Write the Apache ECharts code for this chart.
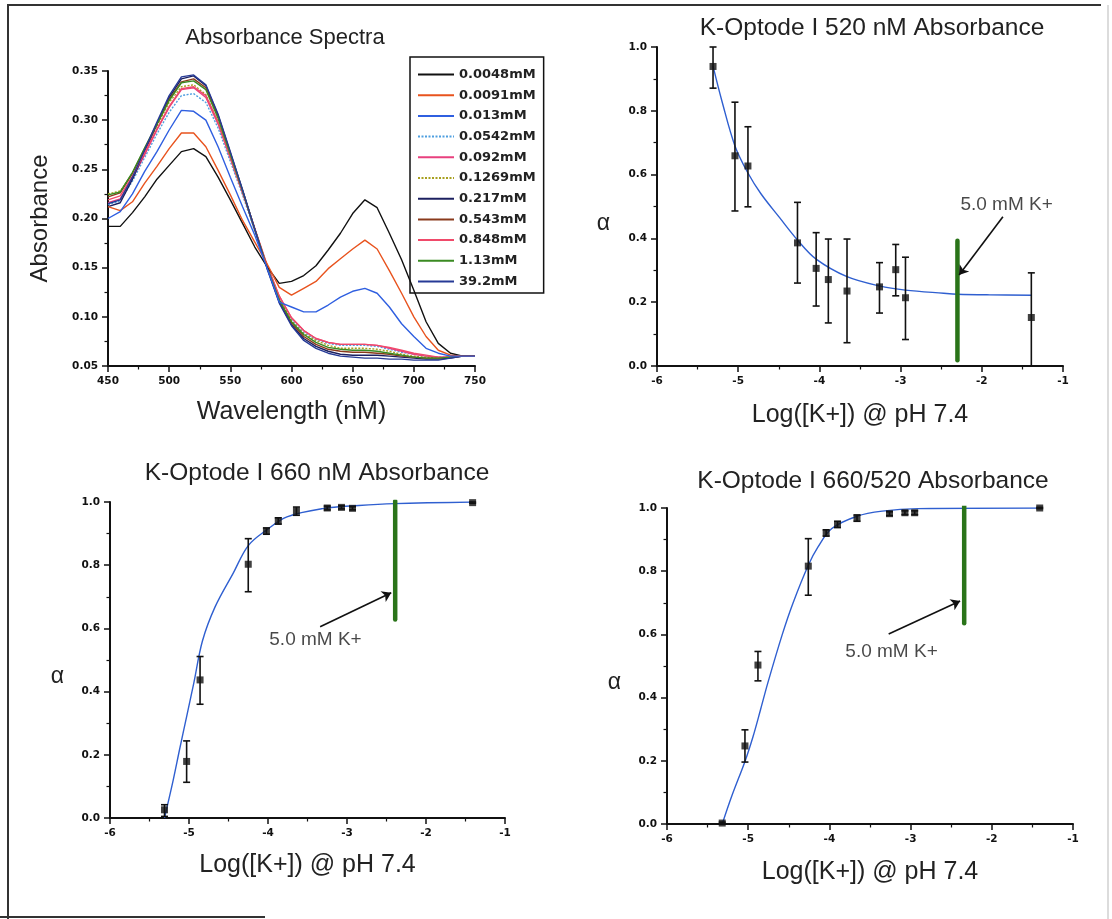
<!DOCTYPE html>
<html>
<head>
<meta charset="utf-8">
<script src="https://cdn.jsdelivr.net/npm/echarts@6/dist/echarts.min.js"></script>
<style>
html,body{margin:0;padding:0;background:#fff;}
#chart{width:1112px;height:919px;}
</style>
</head>
<body>
<div id="chart"></div>
<script>
// ---------- Absorbance spectra ----------
const wavelengths = [450,460,470,480,490,500,510,520,530,540,550,560,570,580,590,600,610,620,630,640,650,660,670,680,690,700,710,720,730,740,750];
const seriesNames = ['0.0048mM','0.0091mM','0.013mM','0.0542mM','0.092mM','0.1269mM','0.217mM','0.543mM','0.848mM','1.13mM','39.2mM'];
const s0048 = [0.192,0.192,0.206,0.222,0.240,0.254,0.268,0.271,0.263,0.242, 0.219,0.195,0.171,0.151,0.134,0.136,0.142,0.152,0.168,0.185, 0.205,0.219,0.211,0.185,0.158,0.127,0.095,0.073,0.063,0.060, 0.060];
const s0091 = [0.212,0.208,0.217,0.236,0.253,0.271,0.287,0.287,0.273,0.249, 0.224,0.198,0.176,0.154,0.130,0.122,0.129,0.136,0.149,0.159, 0.169,0.178,0.169,0.147,0.124,0.100,0.080,0.066,0.061,0.060, 0.060];
const s013  = [0.200,0.207,0.225,0.248,0.268,0.290,0.310,0.309,0.300,0.273, 0.242,0.212,0.183,0.150,0.115,0.110,0.105,0.105,0.112,0.120, 0.126,0.129,0.124,0.110,0.093,0.080,0.068,0.063,0.060,0.060, 0.060];
const s0542 = [0.214,0.218,0.238,0.262,0.286,0.308,0.325,0.327,0.318,0.292, 0.258,0.224,0.187,0.151,0.119,0.097,0.084,0.077,0.073,0.071, 0.071,0.071,0.070,0.067,0.064,0.062,0.060,0.059,0.059,0.060, 0.060];
const s092  = [0.216,0.220,0.241,0.265,0.290,0.313,0.331,0.333,0.323,0.296, 0.261,0.226,0.189,0.152,0.121,0.099,0.086,0.078,0.074,0.072, 0.072,0.072,0.071,0.068,0.065,0.062,0.060,0.059,0.059,0.060, 0.060];
const s1269 = [0.225,0.228,0.246,0.270,0.294,0.318,0.334,0.336,0.326,0.298, 0.263,0.227,0.189,0.151,0.118,0.096,0.083,0.076,0.071,0.068, 0.068,0.068,0.067,0.065,0.062,0.060,0.059,0.058,0.059,0.060, 0.060];
const s217  = [0.212,0.216,0.240,0.268,0.296,0.323,0.342,0.345,0.335,0.305, 0.267,0.229,0.189,0.150,0.115,0.092,0.078,0.070,0.065,0.062, 0.061,0.061,0.061,0.060,0.059,0.058,0.057,0.057,0.058,0.060, 0.060];
const s543  = [0.222,0.226,0.246,0.271,0.296,0.321,0.339,0.342,0.333,0.304, 0.266,0.228,0.189,0.151,0.117,0.094,0.080,0.072,0.067,0.065, 0.064,0.064,0.063,0.062,0.060,0.059,0.058,0.058,0.059,0.060, 0.060];
const s848  = [0.219,0.223,0.243,0.267,0.291,0.314,0.332,0.334,0.325,0.298, 0.263,0.227,0.190,0.153,0.121,0.099,0.086,0.078,0.074,0.072, 0.072,0.072,0.071,0.069,0.066,0.063,0.061,0.059,0.059,0.060, 0.060];
const s113  = [0.224,0.227,0.247,0.272,0.296,0.320,0.338,0.340,0.331,0.302, 0.265,0.228,0.189,0.151,0.117,0.095,0.082,0.074,0.069,0.067, 0.066,0.066,0.065,0.063,0.061,0.059,0.058,0.058,0.059,0.060, 0.060];
const s392  = [0.215,0.219,0.242,0.270,0.298,0.325,0.344,0.346,0.336,0.306, 0.268,0.229,0.189,0.149,0.114,0.091,0.076,0.068,0.063,0.060, 0.059,0.058,0.058,0.057,0.057,0.056,0.056,0.056,0.058,0.060, 0.060];
const spectraValues = [s0048,s0091,s013,s0542,s092,s1269,s217,s543,s848,s113,s392];
const spectraColors = ['#111111','#e8531e','#2f5fe0','#4f9fe0','#e8407e','#a8a020','#1c2060','#8a3a1c','#f04a6a','#3a8a22','#263a96'];
const spectraDashed = [false,false,false,true,false,true,false,false,false,false,false];

// ---------- 520 nm ----------
const k520X   = [-5.31,-5.04,-4.88,-4.27,-4.04,-3.89,-3.66,-3.26,-3.06,-2.94,-1.39];
const k520Y   = [0.939,0.659,0.627,0.386,0.306,0.271,0.235,0.248,0.302,0.214,0.152];
const k520Lo  = [0.871,0.486,0.499,0.260,0.188,0.135,0.073,0.166,0.220,0.083,0.000];
const k520Hi  = [1.000,0.827,0.750,0.513,0.418,0.398,0.398,0.324,0.381,0.341,0.292];
const k520FitX = [-5.31,-5.2,-5.04,-4.88,-4.72,-4.49,-4.27,-4.04,-3.66,-3.26,-2.94,-2.47,-2.3,-1.9,-1.39];
const k520FitY = [0.94,0.83,0.69,0.605,0.54,0.465,0.395,0.335,0.28,0.251,0.238,0.228,0.225,0.223,0.222];
const k520Marker = {x:-2.30, y0:0.018, y1:0.393};
const k520Note = {x:-2.27, y:0.505, ax0:-1.74, ay0:0.468, ax1:-2.28, ay1:0.285};

// ---------- 660 nm ----------
const k660X   = [-5.31,-5.03,-4.86,-4.25,-4.02,-3.87,-3.64,-3.25,-3.07,-2.93,-1.41];
const k660Y   = [0.026,0.179,0.437,0.803,0.908,0.940,0.971,0.981,0.983,0.980,0.998];
const k660Lo  = [0.005,0.113,0.360,0.716,0.898,0.930,0.958,0.975,0.978,0.975,0.996];
const k660Hi  = [0.042,0.244,0.511,0.884,0.918,0.950,0.984,0.987,0.988,0.985,1.000];
const k660FitX = [-5.31,-5.2,-5.12,-5.03,-4.94,-4.83,-4.67,-4.44,-4.25,-4.02,-3.76,-3.31,-2.85,-2.4,-1.41];
const k660FitY = [0.0,0.12,0.216,0.321,0.426,0.56,0.668,0.775,0.862,0.911,0.953,0.979,0.989,0.995,1.0];
const k660Marker = {x:-2.39, y0:0.628, y1:1.003};
const k660Note = {x:-3.99, y:0.565, ax0:-3.34, ay0:0.605, ax1:-2.44, ay1:0.713};

// ---------- 660/520 ----------
const kRatioX  = [-5.32,-5.04,-4.88,-4.26,-4.04,-3.90,-3.66,-3.26,-3.07,-2.95,-1.41];
const kRatioY  = [0.003,0.247,0.503,0.816,0.921,0.948,0.968,0.982,0.985,0.985,1.000];
const kRatioLo = [0.000,0.196,0.453,0.724,0.911,0.938,0.958,0.976,0.979,0.979,0.998];
const kRatioHi = [0.006,0.298,0.546,0.903,0.931,0.958,0.978,0.988,0.991,0.991,1.002];
const kRatioFitX = [-5.32,-5.2,-5.04,-4.94,-4.85,-4.76,-4.58,-4.45,-4.26,-4.14,-3.97,-3.66,-3.35,-2.91,-1.41];
const kRatioFitY = [0.0,0.09,0.198,0.277,0.36,0.445,0.6,0.698,0.819,0.877,0.935,0.974,0.99,0.998,1.0];
const kRatioMarker = {x:-2.34, y0:0.635, y1:1.014};
const kRatioNote = {x:-3.81, y:0.545, ax0:-3.27, ay0:0.601, ax1:-2.39, ay1:0.706};

const noteText = '5.0 mM K+';
const xTitle = 'Log([K+]) @ pH 7.4';

// ---------- layout ----------
const FONT = 'Liberation Sans, Arial, sans-serif';
const TICKFONT = 'DejaVu Sans, sans-serif';
const grids = [
  {left:108, top:71, width:367, height:295},
  {left:657, top:47, width:406, height:319},
  {left:110, top:502, width:395, height:316},
  {left:667, top:508, width:406, height:316}
];

function tickLabel(fmt){
  return {fontFamily:TICKFONT, fontWeight:'bold', fontSize:10.5, color:'#111', margin:10, formatter:fmt};
}
function baseAxis(extra){
  return Object.assign({
    axisLine:{show:true, onZero:false, lineStyle:{color:'#111', width:2}},
    axisTick:{show:true, inside:false, length:6, lineStyle:{color:'#111', width:1.5}},
    minorTick:{show:true, splitNumber:2, length:3.5, lineStyle:{color:'#111', width:1.2}},
    splitLine:{show:false},
    axisLabel:tickLabel(null),
    nameTextStyle:{fontFamily:FONT, fontSize:25, color:'#222'}
  }, extra);
}

const xAxes = [
  baseAxis({type:'value', gridIndex:0, min:450, max:750, interval:50, name:'Wavelength (nM)', nameLocation:'middle', nameGap:34}),
  baseAxis({type:'value', gridIndex:1, min:-6, max:-1, interval:1, name:xTitle, nameLocation:'middle', nameGap:37}),
  baseAxis({type:'value', gridIndex:2, min:-6, max:-1, interval:1, name:xTitle, nameLocation:'middle', nameGap:35}),
  baseAxis({type:'value', gridIndex:3, min:-6, max:-1, interval:1, name:xTitle, nameLocation:'middle', nameGap:36})
];
const alphaName = {fontFamily:FONT, fontSize:23, color:'#222', verticalAlign:'top', lineHeight:34};
const yAxes = [
  baseAxis({type:'value', gridIndex:0, min:0.05, max:0.35, interval:0.05, name:'Absorbance', nameLocation:'middle', nameGap:56, nameRotate:90,
    nameTextStyle:{fontFamily:FONT, fontSize:24, color:'#222'}, axisLabel:tickLabel(v=>v.toFixed(2))}),
  baseAxis({type:'value', gridIndex:1, min:0, max:1, interval:0.2, name:'α', nameLocation:'middle', nameGap:47, nameRotate:0, nameTextStyle:alphaName,
    axisLabel:tickLabel(v=>v.toFixed(1))}),
  baseAxis({type:'value', gridIndex:2, min:0, max:1, interval:0.2, name:'α', nameLocation:'middle', nameGap:46, nameRotate:0, nameTextStyle:alphaName,
    axisLabel:tickLabel(v=>v.toFixed(1))}),
  baseAxis({type:'value', gridIndex:3, min:0, max:1, interval:0.2, name:'α', nameLocation:'middle', nameGap:46, nameRotate:0, nameTextStyle:alphaName,
    axisLabel:tickLabel(v=>v.toFixed(1))})
];

const series = [];
spectraValues.forEach((vals, i) => {
  series.push({
    type:'line', name:seriesNames[i], xAxisIndex:0, yAxisIndex:0,
    data: wavelengths.map((w, j) => [w, vals[j]]),
    symbol:'none', smooth:false, silent:true,
    lineStyle:{color:spectraColors[i], width:1.4, type: spectraDashed[i] ? [2,1.5] : 'solid'},
    itemStyle:{color:spectraColors[i]},
    z: 10 - (i < 3 ? 0 : 1)
  });
});

function errRender(params, api){
  const x = api.value(0), lo = api.value(1), hi = api.value(2);
  const p1 = api.coord([x, hi]);
  const p2 = api.coord([x, lo]);
  const w = 3.5;
  const st = {stroke:'#111', lineWidth:1.6};
  return {type:'group', children:[
    {type:'line', shape:{x1:p1[0], y1:p1[1], x2:p2[0], y2:p2[1]}, style:st},
    {type:'line', shape:{x1:p1[0]-w, y1:p1[1], x2:p1[0]+w, y2:p1[1]}, style:st},
    {type:'line', shape:{x1:p2[0]-w, y1:p2[1], x2:p2[0]+w, y2:p2[1]}, style:st}
  ]};
}

function addPanel(idx, X, Y, Lo, Hi, FX, FY, marker, note){
  series.push({
    type:'line', xAxisIndex:idx, yAxisIndex:idx, data: FX.map((x,i)=>[x, FY[i]]),
    smooth:0.35, symbol:'none', silent:true, lineStyle:{color:'#2f5fd0', width:1.4}, z:3
  });
  series.push({
    type:'custom', xAxisIndex:idx, yAxisIndex:idx, renderItem:errRender, silent:true,
    encode:{x:0, y:[1,2]}, data: X.map((x,i)=>[x, Lo[i], Hi[i]]), z:4
  });
  series.push({
    type:'scatter', xAxisIndex:idx, yAxisIndex:idx, data: X.map((x,i)=>[x, Y[i]]),
    symbol:'rect', symbolSize:7, itemStyle:{color:'#111'}, silent:true, z:5
  });
  series.push({
    type:'line', xAxisIndex:idx, yAxisIndex:idx, data:[[marker.x, marker.y0],[marker.x, marker.y1]],
    symbol:'none', silent:true, lineStyle:{color:'#2a7419', width:4.5, cap:'round'}, z:6
  });
  series.push({
    type:'lines', coordinateSystem:'cartesian2d', xAxisIndex:idx, yAxisIndex:idx, silent:true,
    symbol:['none','arrow'], symbolSize:[0,9],
    lineStyle:{color:'#111', width:1.6, opacity:1},
    data:[{coords:[[note.ax0, note.ay0],[note.ax1, note.ay1]]}], z:7
  });
  series.push({
    type:'scatter', xAxisIndex:idx, yAxisIndex:idx, data:[[note.x, note.y]], symbolSize:1, silent:true,
    itemStyle:{color:'rgba(0,0,0,0)'},
    label:{show:true, position:'right', distance:0, formatter:noteText, fontFamily:FONT, fontSize:19, color:'#1a1a1a'}, z:7
  });
}
addPanel(1, k520X, k520Y, k520Lo, k520Hi, k520FitX, k520FitY, k520Marker, k520Note);
addPanel(2, k660X, k660Y, k660Lo, k660Hi, k660FitX, k660FitY, k660Marker, k660Note);
addPanel(3, kRatioX, kRatioY, kRatioLo, kRatioHi, kRatioFitX, kRatioFitY, kRatioMarker, kRatioNote);

const titles = [
  {text:'Absorbance Spectra', x:285, y:38, size:22},
  {text:'K-Optode I 520 nM Absorbance', x:872, y:28, size:24.5},
  {text:'K-Optode I 660 nM Absorbance', x:317, y:473, size:24.5},
  {text:'K-Optode I 660/520 Absorbance', x:873, y:481, size:24.5}
];

const option = {
  animation:false,
  backgroundColor:'#ffffff',
  grid: grids.map(g => Object.assign({containLabel:false}, g)),
  xAxis: xAxes,
  yAxis: yAxes,
  legend:{
    data: seriesNames, orient:'vertical', left:410, top:57,
    padding:[11,8,5,7], itemGap:7.7, itemWidth:36, itemHeight:14,
    itemStyle:{opacity:0, borderWidth:0},
    borderColor:'#111', borderWidth:1.5, selectedMode:false,
    textStyle:{fontFamily:TICKFONT, fontWeight:'bold', fontSize:13, color:'#222'}
  },
  graphic: [
    {type:'polyline', shape:{points:[[8,919],[8,5],[1101,5]]}, style:{stroke:'#333', lineWidth:2, fill:null}},
    {type:'line', shape:{x1:0, y1:917, x2:265, y2:917}, style:{stroke:'#333', lineWidth:2}},
    {type:'line', shape:{x1:1108, y1:5, x2:1108, y2:919}, style:{stroke:'#d0d0d0', lineWidth:1.5}}
  ].concat(titles.map(t => ({
    type:'text', x:t.x, y:t.y,
    style:{text:t.text, fontFamily:FONT, fontSize:t.size, fill:'#222', textAlign:'center', textVerticalAlign:'middle'}
  }))),
  series: series
};

const chart = echarts.init(document.getElementById('chart'), null, {renderer:'canvas'});
chart.setOption(option);
</script>
</body>
</html>
